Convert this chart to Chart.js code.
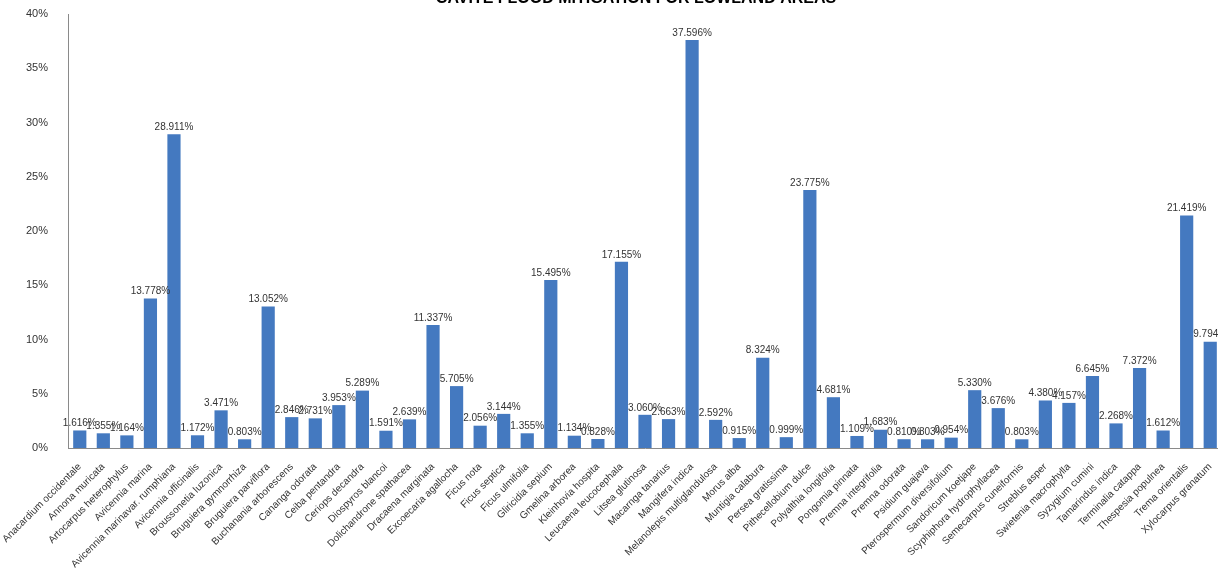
<!DOCTYPE html>
<html>
<head>
<meta charset="utf-8">
<script src="https://cdn.jsdelivr.net/npm/chart.js@4"></script>
<style>
  body { margin: 0; overflow: hidden; background: #fff; }
  #wrap { width: 1218px; height: 578px; overflow: hidden; }
</style>
</head>
<body>
<div id="wrap"><canvas id="floodChart" width="1224" height="578"></canvas></div>
<script>
const chartTitle = "CAVITE FLOOD MITIGATION FOR LOWLAND AREAS";

const speciesNames = [
    "Anacardium occidentale", "Annona muricata", "Artocarpus heterophylus", "Avicennia marina",
    "Avicennia marinavar. rumphiana", "Avicennia officinalis", "Broussonetia luzonica", "Bruguiera gymnorrhiza",
    "Bruguiera parviflora", "Buchanania arborescens", "Cananga odorata", "Ceiba pentandra",
    "Ceriops decandra", "Diospyros blancoi", "Dolichandrone spathacea", "Dracaena marginata",
    "Excoecaria agallocha", "Ficus nota", "Ficus septica", "Ficus ulmifolia",
    "Gliricidia sepium", "Gmelina arborea", "Kleinhovia hospita", "Leucaena leucocephala",
    "Litsea glutinosa", "Macarnga tanarius", "Mangifera indica", "Melanolepis multiglandulosa",
    "Morus alba", "Muntigia calabura", "Persea gratissima", "Pithecellobium dulce",
    "Polyalthia longifolia", "Pongomia pinnata", "Premna integrifolia", "Premna odorata",
    "Psidium guajava", "Pterospermum diversifolium", "Sandoricum koetjape", "Scyphiphora hydrophyllacea",
    "Semecarpus cuneiformis", "Streblus asper", "Swietenia macrophylla", "Syzygium cumini",
    "Tamarindus indica", "Terminalia catappa", "Thespesia populnea", "Trema orientalis",
    "Xylocarpus granatum"
];

const sharePercent = [
    1.616, 1.355, 1.164, 13.778,
    28.911, 1.172, 3.471, 0.803,
    13.052, 2.846, 2.731, 3.953,
    5.289, 1.591, 2.639, 11.337,
    5.705, 2.056, 3.144, 1.355,
    15.495, 1.134, 0.828, 17.155,
    3.060, 2.663, 37.596, 2.592,
    0.915, 8.324, 0.999, 23.775,
    4.681, 1.109, 1.683, 0.810,
    0.803, 0.954, 5.330, 3.676,
    0.803, 4.380, 4.157, 6.645,
    2.268, 7.372, 1.612, 21.419,
    9.794
];

const yMax = 40;
const yStep = 5;

const labelFont = "'Liberation Sans', Arial, sans-serif";

// value labels above each bar
const barValueLabels = {
    id: "barValueLabels",
    afterDatasetsDraw(chart) {
        const ctx = chart.ctx;
        const meta = chart.getDatasetMeta(0);
        ctx.save();
        ctx.font = "10px " + labelFont;
        ctx.fillStyle = "#333";
        ctx.textAlign = "center";
        ctx.textBaseline = "bottom";
        meta.data.forEach((bar, i) => {
            ctx.fillText(sharePercent[i].toFixed(3) + "%", bar.x, bar.y - 2);
        });
        ctx.restore();
    }
};

// title sits half cut off at the top edge
const cutTitle = {
    id: "cutTitle",
    afterDraw(chart) {
        const ctx = chart.ctx;
        ctx.save();
        ctx.font = "bold 16px " + labelFont;
        ctx.fillStyle = "#000";
        ctx.textAlign = "center";
        ctx.textBaseline = "alphabetic";
        ctx.fillText(chartTitle, 636, 3);
        ctx.restore();
    }
};

const ctx = document.getElementById("floodChart").getContext("2d");
const floodChart = new Chart(ctx, {
    type: "bar",
    data: {
        labels: speciesNames,
        datasets: [{
            data: sharePercent,
            backgroundColor: "#4479c0",
            barPercentage: 0.56,
            categoryPercentage: 1
        }]
    },
    options: {
        responsive: false,
        animation: false,
        layout: { padding: { top: 14, right: 2, left: 0, bottom: 0 } },
        plugins: {
            legend: { display: false },
            tooltip: { enabled: false }
        },
        scales: {
            x: {
                grid: { display: false },
                border: { color: "#8a8a8a" },
                ticks: {
                    autoSkip: false,
                    maxRotation: 45,
                    minRotation: 45,
                    padding: 5,
                    color: "#333",
                    font: { family: labelFont, size: 10 }
                },
                afterFit(scale) {
                    scale.height = 130;
                    scale.paddingLeft = 0;
                    scale.paddingRight = 0;
                }
            },
            y: {
                min: 0,
                max: yMax,
                grid: { display: false },
                border: { color: "#8a8a8a" },
                ticks: {
                    stepSize: yStep,
                    padding: 12,
                    color: "#333",
                    font: { family: labelFont, size: 11 },
                    callback: value => value + "%"
                },
                afterFit(scale) {
                    scale.width = 68;
                    scale.paddingTop = 0;
                    scale.paddingBottom = 0;
                }
            }
        }
    },
    plugins: [barValueLabels, cutTitle]
});
</script>
</body>
</html>
